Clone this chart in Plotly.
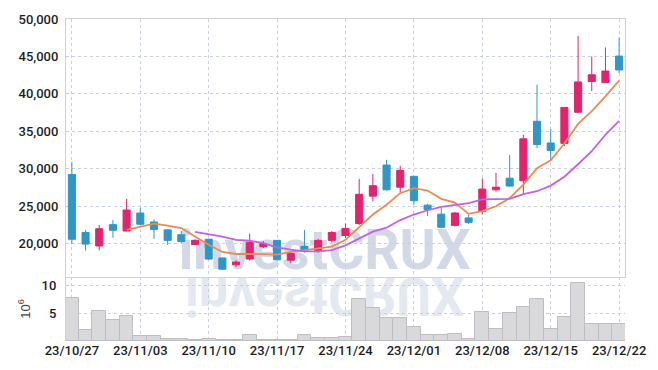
import base64
import plotly.graph_objects as go

dates = ["23/10/27",
         "23/10/30", "23/10/31", "23/11/01", "23/11/02", "23/11/03",
         "23/11/06", "23/11/07", "23/11/08", "23/11/09", "23/11/10",
         "23/11/13", "23/11/14", "23/11/15", "23/11/16", "23/11/17",
         "23/11/20", "23/11/21", "23/11/22", "23/11/23", "23/11/24",
         "23/11/27", "23/11/28", "23/11/29", "23/11/30", "23/12/01",
         "23/12/04", "23/12/05", "23/12/06", "23/12/07", "23/12/08",
         "23/12/11", "23/12/12", "23/12/13", "23/12/14", "23/12/15",
         "23/12/18", "23/12/19", "23/12/20", "23/12/21", "23/12/22"]

opens = [29250, 21500, 19700, 22550, 21700, 24100, 22900, 21850, 21200, 19900,
         20600, 18100, 17200, 17950, 19600, 20450, 17800, 19650, 19100, 20450,
         21100, 22700, 26350, 30500, 27550, 29000, 25150, 23950, 22450, 23450,
         24350, 27200, 28750, 28400, 36350, 33450, 33400, 37550, 41650, 41500,
         45050]
highs = [30900, 21850, 22500, 23150, 26000, 24800, 23250, 21900, 21700, 20600,
         20650, 18150, 17800, 21350, 20350, 20500, 18850, 21850, 20650, 21700,
         22700, 28650, 29300, 31200, 30400, 29050, 25350, 24800, 24250, 23900,
         28700, 29450, 31850, 34550, 41250, 35300, 38250, 47750, 45000, 46200,
         47500]
lows = [20000, 19100, 19100, 20800, 21650, 22500, 20650, 19850, 20100, 19850,
        17850, 16500, 16900, 17750, 19400, 17800, 17400, 18800, 18800, 20200,
        20750, 22500, 25650, 27100, 26800, 25200, 23700, 22050, 22300, 22650,
        23900, 26950, 27650, 26550, 32750, 31150, 33050, 37500, 40400, 41450,
        42800]
closes = [20600, 19950, 22000, 21800, 24500, 22600, 21900, 20450, 20300, 20450,
          17950, 16600, 17550, 20150, 20000, 17850, 18700, 19000, 20450, 21500,
          22050, 26600, 27750, 27200, 29800, 25750, 24550, 22200, 24100, 22850,
          27300, 27550, 27700, 34000, 33250, 32450, 38200, 41600, 42550, 43050,
          43200]

ma5 = [None, None, None, None,
       21840, 22280, 22670, 22410, 22100, 20960, 19870, 18900, 18630, 18650,
       18630, 18550, 18900, 19120, 19300, 19600, 20520, 22190, 23900, 25210,
       26750, 27410, 27100, 26000, 25500, 23990, 24340, 25000, 26090, 27890,
       30080, 31130, 33370, 36000, 37710, 39680, 41790]
ma10 = [None, None, None, None, None, None, None, None, None,
        21580, 21320, 20960, 20520, 20400, 20080, 19510, 19210, 18990, 18990,
        19150, 19780, 20660, 21620, 22140, 23160, 23900, 24470, 24910, 25210,
        25430, 25920, 26000, 26000, 26620, 27010, 27760, 28950, 30610, 32370,
        34550, 36390]

volumes = [7.8, 2.0, 5.5, 3.8, 4.6, 0.9, 0.9, 0.4, 0.4, 0.25,
           0.4, 0.25, 0.1, 1.0, 0.25, 0.25, 0.25, 1.0, 0.5, 0.5,
           0.7, 7.6, 6.0, 4.1, 4.1, 2.5, 1.0, 1.0, 1.2, 0.35,
           5.3, 2.1, 5.1, 6.2, 7.6, 2.1, 4.4, 10.5, 3.1, 3.1,
           3.1]

tick_dates = ["23/10/27", "23/11/03", "23/11/10", "23/11/17", "23/11/24",
              "23/12/01", "23/12/08", "23/12/15", "23/12/22"]
price_ticks = [20000, 25000, 30000, 35000, 40000, 45000, 50000]
volume_ticks = [5, 10]
watermark = "investCRUX"

UP = "#e3236d"
DOWN = "#2f96c8"
GRID = "#c9cee0"
AXLINE = "#cfcfd4"
TXT = "#1e1e1e"
FONT = "Roboto, Liberation Sans, Arial, sans-serif"
WM_FONT = "Roboto, Liberation Sans, Arial, sans-serif"
TICKFONT = dict(family=FONT, size=13, color=TXT, weight=500)

fig = go.Figure()

fig.add_trace(go.Candlestick(
    x=dates, open=opens, high=highs, low=lows, close=closes,
    increasing=dict(line=dict(color=UP, width=1), fillcolor=UP),
    decreasing=dict(line=dict(color=DOWN, width=1), fillcolor=DOWN),
    whiskerwidth=0, xaxis="x", yaxis="y", showlegend=False,
))
fig.add_trace(go.Scatter(x=dates, y=ma5, mode="lines",
                         line=dict(color="#ee8a50", width=1.8),
                         xaxis="x", yaxis="y", showlegend=False))
fig.add_trace(go.Scatter(x=dates, y=ma10, mode="lines",
                         line=dict(color="#c75fe6", width=1.8),
                         xaxis="x", yaxis="y", showlegend=False))
fig.add_trace(go.Bar(x=dates, y=volumes,
                     marker=dict(color="#d9d9dc", line=dict(color="#bdbdc2", width=1)),
                     xaxis="x2", yaxis="y2", showlegend=False))

# layout geometry (pixels -> paper)
L, R, T, B = 66, 28, 14, 29
W, H = 658, 370
pw, ph = W - L - R, H - T - B
def px_x(p):
    return (p - L) / pw
def px_y(p):
    return (H - B - p) / ph
split = px_y(276)

xrange = [-0.43, 40.43]
common_x = dict(type="category", range=xrange, tickvals=tick_dates,
                showgrid=True, gridcolor=GRID, griddash="dot", gridwidth=1,
                zeroline=False, ticks="")

fig.update_layout(
    width=W, height=H,
    margin=dict(l=L, r=R, t=T, b=B),
    paper_bgcolor="white", plot_bgcolor="white",
    showlegend=False,
    boxgap=0.26,
    bargap=0,
    font=dict(family=FONT, size=13, color=TXT),
    xaxis=dict(**common_x, domain=[0, 1], anchor="y", showticklabels=False,
               showline=True, mirror=True, linecolor=AXLINE, linewidth=1,
               rangeslider=dict(visible=False)),
    yaxis=dict(domain=[split, 1], range=[15560, 50000], tickvals=price_ticks,
               tickformat=",d", showgrid=True, gridcolor=GRID, griddash="dot",
               zeroline=False, showline=True, mirror=True, linecolor=AXLINE,
               ticks="", ticklabelstandoff=4, tickfont=TICKFONT),
    xaxis2=dict(**common_x, domain=[0, 1], anchor="y2", matches="x",
                ticktext=tick_dates, showticklabels=True,
                tickfont=TICKFONT, showline=False),
    yaxis2=dict(domain=[0, split], range=[0, 11.6], tickvals=volume_ticks,
                showgrid=True, gridcolor=GRID, griddash="dot", zeroline=False,
                showline=True, linecolor=AXLINE, ticks="", ticklabelstandoff=6,
                tickfont=TICKFONT,
                title=dict(text="10<sup>6</sup>",
                           font=dict(family="Liberation Sans, Arial", size=13, color="#444"),
                           standoff=8)),
)

# watermark text (below traces)
fig.add_shape(type="rect", xref="paper", yref="paper",
              x0=px_x(187), x1=px_x(467), y0=px_y(264.5), y1=px_y(224.5),
              line=dict(width=0), fillcolor="rgba(0,0,0,0)", layer="below",
              label=dict(text=watermark, textposition="middle center",
                         font=dict(family=WM_FONT, size=55, color="#d3d8e7",
                                   weight="bold")))

# mirrored reflection of the watermark
svg = (
    '<svg xmlns="http://www.w3.org/2000/svg" width="284" height="50" '
    'viewBox="0 0 284 50" preserveAspectRatio="none">'
    '<g transform="scale(1,-1)">'
    '<text x="1" y="-1" font-family="Roboto, Liberation Sans, Arial" '
    'font-weight="bold" font-size="55" fill="#e4e8f1" textLength="282" '
    'lengthAdjust="spacingAndGlyphs">' + watermark + '</text></g></svg>'
)
src = "data:image/svg+xml;base64," + base64.b64encode(svg.encode()).decode()
fig.add_layout_image(dict(source=src, xref="paper", yref="paper",
                          x=px_x(185), y=px_y(276), sizex=284 / pw, sizey=50 / ph,
                          xanchor="left", yanchor="top", sizing="stretch",
                          layer="below", opacity=1))

fig.write_html("out.html",
               config={"displayModeBar": False},
               post_script="document.body.style.margin='0';"
                           "document.body.style.overflow='hidden';")
